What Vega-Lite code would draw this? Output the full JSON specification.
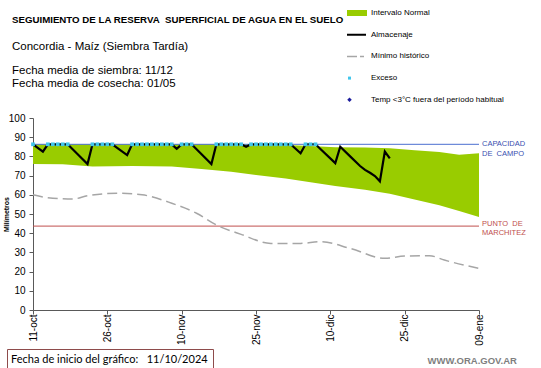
{
  "$schema": "https://vega.github.io/schema/vega-lite/v6.json",
  "width": 446,
  "height": 192,
  "autosize": {"type": "none"},
  "padding": {"left": 33, "top": 118, "right": 62, "bottom": 58},
  "background": "white",
  "config": {"view": {"stroke": null}, "font": "Liberation Sans"},
  "resolve": {"legend": {"color": "independent"}},
  "title": {
    "text": "SEGUIMIENTO DE LA RESERVA\u00a0 SUPERFICIAL DE AGUA EN EL SUELO",
    "subtitle": "Concordia - Maíz (Siembra Tardía)",
    "anchor": "start",
    "frame": "group",
    "orient": "top",
    "dx": -21,
    "dy": 43,
    "offset": 0,
    "font": "Liberation Sans",
    "fontSize": 9.7,
    "fontWeight": "bold",
    "color": "#000000",
    "subtitleFont": "Liberation Sans",
    "subtitleFontSize": 11.5,
    "subtitleColor": "#000000",
    "subtitlePadding": 15.5
  },
  "datasets": {
    "banda": [
      {"fecha": "2024-10-11", "bajo": 76.0, "alto": 86.3},
      {"fecha": "2024-10-17", "bajo": 75.9, "alto": 86.3},
      {"fecha": "2024-10-23", "bajo": 74.8, "alto": 86.3},
      {"fecha": "2024-10-31", "bajo": 75.0, "alto": 86.3},
      {"fecha": "2024-11-08", "bajo": 74.8, "alto": 86.3},
      {"fecha": "2024-11-14", "bajo": 73.5, "alto": 86.3},
      {"fecha": "2024-11-20", "bajo": 72.0, "alto": 86.3},
      {"fecha": "2024-11-25", "bajo": 70.3, "alto": 86.3},
      {"fecha": "2024-12-01", "bajo": 68.5, "alto": 86.0},
      {"fecha": "2024-12-06", "bajo": 66.5, "alto": 85.4},
      {"fecha": "2024-12-11", "bajo": 64.6, "alto": 84.8},
      {"fecha": "2024-12-17", "bajo": 62.6, "alto": 84.7},
      {"fecha": "2024-12-22", "bajo": 60.5, "alto": 84.2},
      {"fecha": "2024-12-27", "bajo": 57.5, "alto": 83.2},
      {"fecha": "2025-01-01", "bajo": 54.5, "alto": 82.3},
      {"fecha": "2025-01-05", "bajo": 51.5, "alto": 80.8},
      {"fecha": "2025-01-09", "bajo": 48.5, "alto": 81.6}
    ],
    "minimo": [
      {"fecha": "2024-10-11", "valor": 60.0},
      {"fecha": "2024-10-14", "valor": 58.5},
      {"fecha": "2024-10-19", "valor": 57.8},
      {"fecha": "2024-10-22", "valor": 59.5},
      {"fecha": "2024-10-28", "valor": 60.8},
      {"fecha": "2024-11-02", "valor": 60.0},
      {"fecha": "2024-11-08", "valor": 55.6},
      {"fecha": "2024-11-13", "valor": 50.4},
      {"fecha": "2024-11-17", "valor": 44.3},
      {"fecha": "2024-11-22", "valor": 39.4},
      {"fecha": "2024-11-28", "valor": 34.7},
      {"fecha": "2024-12-04", "valor": 34.7},
      {"fecha": "2024-12-08", "valor": 35.6},
      {"fecha": "2024-12-14", "valor": 32.1},
      {"fecha": "2024-12-21", "valor": 26.9},
      {"fecha": "2024-12-25", "valor": 28.1},
      {"fecha": "2024-12-30", "valor": 28.3},
      {"fecha": "2025-01-02", "valor": 26.0},
      {"fecha": "2025-01-09", "valor": 21.7}
    ],
    "almacenaje": [
      {"fecha": "2024-10-11", "valor": 86.3},
      {"fecha": "2024-10-13", "valor": 82.5},
      {"fecha": "2024-10-14", "valor": 86.3},
      {"fecha": "2024-10-18", "valor": 86.3},
      {"fecha": "2024-10-22", "valor": 76.0},
      {"fecha": "2024-10-23", "valor": 86.3},
      {"fecha": "2024-10-27", "valor": 86.3},
      {"fecha": "2024-10-30", "valor": 80.7},
      {"fecha": "2024-10-31", "valor": 86.3},
      {"fecha": "2024-11-08", "valor": 86.3},
      {"fecha": "2024-11-09", "valor": 84.0},
      {"fecha": "2024-11-10", "valor": 86.3},
      {"fecha": "2024-11-12", "valor": 86.3},
      {"fecha": "2024-11-16", "valor": 76.0},
      {"fecha": "2024-11-17", "valor": 86.3},
      {"fecha": "2024-11-22", "valor": 86.3},
      {"fecha": "2024-11-23", "valor": 85.0},
      {"fecha": "2024-11-24", "valor": 86.3},
      {"fecha": "2024-12-02", "valor": 86.3},
      {"fecha": "2024-12-04", "valor": 81.6},
      {"fecha": "2024-12-05", "valor": 86.3},
      {"fecha": "2024-12-07", "valor": 86.3},
      {"fecha": "2024-12-11", "valor": 76.5},
      {"fecha": "2024-12-12", "valor": 85.0},
      {"fecha": "2024-12-14", "valor": 80.0},
      {"fecha": "2024-12-16", "valor": 75.0},
      {"fecha": "2024-12-17", "valor": 73.0},
      {"fecha": "2024-12-18", "valor": 71.5},
      {"fecha": "2024-12-19", "valor": 69.8},
      {"fecha": "2024-12-20", "valor": 67.0},
      {"fecha": "2024-12-21", "valor": 82.5},
      {"fecha": "2024-12-22", "valor": 79.0}
    ],
    "exceso": [
      {"fecha": "2024-10-11", "valor": 86.3},
      {"fecha": "2024-10-14", "valor": 86.3},
      {"fecha": "2024-10-15", "valor": 86.3},
      {"fecha": "2024-10-16", "valor": 86.3},
      {"fecha": "2024-10-17", "valor": 86.3},
      {"fecha": "2024-10-18", "valor": 86.3},
      {"fecha": "2024-10-23", "valor": 86.3},
      {"fecha": "2024-10-24", "valor": 86.3},
      {"fecha": "2024-10-25", "valor": 86.3},
      {"fecha": "2024-10-26", "valor": 86.3},
      {"fecha": "2024-10-27", "valor": 86.3},
      {"fecha": "2024-10-31", "valor": 86.3},
      {"fecha": "2024-11-01", "valor": 86.3},
      {"fecha": "2024-11-02", "valor": 86.3},
      {"fecha": "2024-11-03", "valor": 86.3},
      {"fecha": "2024-11-04", "valor": 86.3},
      {"fecha": "2024-11-05", "valor": 86.3},
      {"fecha": "2024-11-06", "valor": 86.3},
      {"fecha": "2024-11-07", "valor": 86.3},
      {"fecha": "2024-11-08", "valor": 86.3},
      {"fecha": "2024-11-10", "valor": 86.3},
      {"fecha": "2024-11-11", "valor": 86.3},
      {"fecha": "2024-11-12", "valor": 86.3},
      {"fecha": "2024-11-17", "valor": 86.3},
      {"fecha": "2024-11-18", "valor": 86.3},
      {"fecha": "2024-11-19", "valor": 86.3},
      {"fecha": "2024-11-20", "valor": 86.3},
      {"fecha": "2024-11-21", "valor": 86.3},
      {"fecha": "2024-11-22", "valor": 86.3},
      {"fecha": "2024-11-24", "valor": 86.3},
      {"fecha": "2024-11-25", "valor": 86.3},
      {"fecha": "2024-11-26", "valor": 86.3},
      {"fecha": "2024-11-27", "valor": 86.3},
      {"fecha": "2024-11-28", "valor": 86.3},
      {"fecha": "2024-11-29", "valor": 86.3},
      {"fecha": "2024-11-30", "valor": 86.3},
      {"fecha": "2024-12-01", "valor": 86.3},
      {"fecha": "2024-12-02", "valor": 86.3},
      {"fecha": "2024-12-05", "valor": 86.3},
      {"fecha": "2024-12-06", "valor": 86.3},
      {"fecha": "2024-12-07", "valor": 86.3}
    ],
    "referencias": [
      {"nombre": "Capacidad de campo", "fecha": "2025-01-09", "valor": 86.3, "etiqueta": ["CAPACIDAD", "DE\u00a0\u00a0CAMPO"]},
      {"nombre": "Punto de marchitez", "fecha": "2025-01-09", "valor": 43.7, "etiqueta": ["PUNTO\u00a0\u00a0DE", "MARCHITEZ"]}
    ]
  },
  "layer": [
    {
      "data": {"name": "banda"},
      "mark": {"type": "area", "opacity": 1},
      "encoding": {
        "x": {
          "field": "fecha", "type": "temporal", "title": "WWW.ORA.GOV.AR",
          "scale": {"type": "utc", "nice": false, "domain": [
            {"year": 2024, "month": 10, "date": 11, "utc": true},
            {"year": 2025, "month": 1, "date": 9, "utc": true}
          ]},
          "axis": {
            "values": [
              {"year": 2024, "month": 10, "date": 11, "utc": true},
              {"year": 2024, "month": 10, "date": 26, "utc": true},
              {"year": 2024, "month": 11, "date": 10, "utc": true},
              {"year": 2024, "month": 11, "date": 25, "utc": true},
              {"year": 2024, "month": 12, "date": 10, "utc": true},
              {"year": 2024, "month": 12, "date": 25, "utc": true},
              {"year": 2025, "month": 1, "date": 9, "utc": true}
            ],
            "tickCount": 20,
            "labelExpr": "utcFormat(datum.value, '%d') + '-' + ['ene','feb','mar','abr','may','jun','jul','ago','sep','oct','nov','dic'][utcmonth(datum.value)]",
            "labelAngle": -90,
            "labelAlign": "right",
            "labelBaseline": "middle",
            "labelFont": "Liberation Sans",
            "labelFontSize": 10,
            "labelColor": "#000000",
            "labelPadding": 0,
            "labelOverlap": false,
            "labelFlush": false,
            "labelBound": false,
            "tickSize": 4,
            "tickColor": "#595959",
            "domainColor": "#595959",
            "grid": false,
            "titleX": 394,
            "titleY": 50,
            "titleAlign": "left",
            "titleBaseline": "middle",
            "titleAnchor": null,
            "titleFont": "Liberation Sans",
            "titleFontSize": 9.5,
            "titleFontWeight": "bold",
            "titleColor": "#7f7f7f"
          }
        },
        "y": {
          "field": "alto", "type": "quantitative", "title": "Milímetros",
          "scale": {"domain": [0, 100], "nice": false},
          "axis": {
            "values": [0, 10, 20, 30, 40, 50, 60, 70, 80, 90, 100],
            "tickCount": 20,
            "labelOverlap": false,
            "labelFlush": false,
            "labelBound": false,
            "labelFont": "Liberation Sans",
            "labelFontSize": 10,
            "labelColor": "#000000",
            "labelPadding": 4,
            "tickSize": 4,
            "tickColor": "#595959",
            "domainColor": "#595959",
            "grid": false,
            "titleFont": "Liberation Sans",
            "titleFontSize": 7,
            "titleFontWeight": "bold",
            "titleColor": "#000000",
            "titleX": -27,
            "titleY": 96,
            "titleAngle": -90,
            "titleAlign": "center",
            "titleBaseline": "middle"
          }
        },
        "y2": {"field": "bajo"},
        "color": {
          "datum": "Intervalo Normal", "type": "nominal",
          "scale": {
            "domain": ["Intervalo Normal", "Almacenaje", "Mínimo histórico", "Exceso", "Temp <3°C fuera del período habitual"],
            "range": ["#99cc00", "#000000", "#a6a6a6", "#41c6ec", "#1c1c9c"]
          },
          "legend": {
            "orient": "none",
            "legendX": 320,
            "legendY": -109,
            "title": null,
            "direction": "vertical",
            "padding": 0,
            "labelFont": "Liberation Sans",
            "labelFontSize": 8,
            "labelColor": "#000000",
            "labelOffset": 10,
            "labelLimit": 200,
            "rowPadding": 13.7,
            "symbolSize": 100,
            "encoding": {
              "symbols": {
                "shape": {"value": {"expr": "datum.value == 'Intervalo Normal' ? 'M-2,-0.6H2V0.6H-2Z' : datum.value == 'Exceso' ? 'M-1.8,-0.3H-1.2V0.3H-1.8Z' : (datum.value == 'Almacenaje' || datum.value == 'Mínimo histórico') ? 'M-2,0H1.8' : 'M-1.5,-0.45L-1.05,0L-1.5,0.45L-1.95,0Z'"}},
                "size": {"value": 100},
                "fill": {"value": {"expr": "datum.value == 'Intervalo Normal' ? '#99cc00' : datum.value == 'Exceso' ? '#41c6ec' : (datum.value == 'Almacenaje' || datum.value == 'Mínimo histórico') ? 'transparent' : '#1c1c9c'"}},
                "stroke": {"value": {"expr": "datum.value == 'Almacenaje' ? '#000000' : datum.value == 'Mínimo histórico' ? '#a6a6a6' : 'transparent'"}},
                "strokeWidth": {"value": {"expr": "datum.value == 'Almacenaje' ? 2 : datum.value == 'Mínimo histórico' ? 1.5 : 0"}},
                "strokeDash": {"value": {"expr": "datum.value == 'Mínimo histórico' ? [10, 3, 4, 3] : [1, 0]"}},
                "opacity": {"value": 1}
              }
            }
          }
        }
      }
    },
    {
      "data": {"name": "referencias"},
      "transform": [{"filter": "datum.nombre == 'Capacidad de campo'"}],
      "mark": {"type": "rule", "color": "#4a6fd0", "strokeWidth": 1},
      "encoding": {
        "y": {"field": "valor", "type": "quantitative", "title": "Milímetros"}
      }
    },
    {
      "data": {"name": "referencias"},
      "transform": [{"filter": "datum.nombre == 'Punto de marchitez'"}],
      "mark": {"type": "rule", "color": "#c0504d", "strokeWidth": 1},
      "encoding": {
        "y": {"field": "valor", "type": "quantitative", "title": "Milímetros"}
      }
    },
    {
      "data": {"name": "minimo"},
      "mark": {"type": "line", "strokeWidth": 1.5, "interpolate": "monotone"},
      "encoding": {
        "x": {"field": "fecha", "type": "temporal", "title": "WWW.ORA.GOV.AR"},
        "y": {"field": "valor", "type": "quantitative", "title": "Milímetros"},
        "color": {"datum": "Mínimo histórico", "type": "nominal", "legend": null},
        "strokeDash": {
          "datum": "Mínimo histórico",
          "type": "nominal",
          "scale": {"range": [[10, 5]]},
          "legend": {
            "orient": "none",
            "legendX": -21,
            "legendY": -53,
            "padding": 0,
            "title": ["Fecha media de siembra: 11/12", "Fecha media de cosecha: 01/05"],
            "titleFont": "Liberation Sans",
            "titleFontSize": 11.5,
            "titleFontWeight": "normal",
            "titleColor": "#000000",
            "titleLineHeight": 12.5,
            "titleLimit": 400,
            "titlePadding": 0,
            "labelExpr": "''",
            "symbolOpacity": 0,
            "symbolSize": 1,
            "symbolStrokeWidth": 0
          }
        }
      }
    },
    {
      "data": {"name": "almacenaje"},
      "mark": {"type": "line", "strokeWidth": 2.2},
      "encoding": {
        "x": {"field": "fecha", "type": "temporal", "title": "WWW.ORA.GOV.AR"},
        "y": {"field": "valor", "type": "quantitative", "title": "Milímetros"},
        "color": {"datum": "Almacenaje", "type": "nominal", "legend": null}
      }
    },
    {
      "data": {"name": "exceso"},
      "mark": {"type": "point", "filled": true, "opacity": 1, "size": 14},
      "encoding": {
        "x": {"field": "fecha", "type": "temporal", "title": "WWW.ORA.GOV.AR"},
        "y": {"field": "valor", "type": "quantitative", "title": "Milímetros"},
        "color": {"datum": "Exceso", "type": "nominal", "legend": null},
        "shape": {
          "datum": "Fecha de inicio del gráfico:\u00a0\u00a0\u00a011/10/2024",
          "type": "nominal",
          "scale": {"range": ["square"]},
          "legend": {
            "orient": "none",
            "legendX": -26,
            "legendY": 231,
            "title": null,
            "strokeColor": "#8e4b4b",
            "padding": 5,
            "labelFont": "Lato",
            "labelFontSize": 11,
            "labelColor": "#000000",
            "labelLimit": 300,
            "labelOffset": -12,
            "symbolOpacity": 0,
            "symbolStrokeWidth": 0
          }
        }
      }
    },
    {
      "data": {"name": "referencias"},
      "transform": [{"filter": "datum.nombre == 'Capacidad de campo'"}],
      "mark": {"type": "text", "align": "left", "baseline": "middle", "dx": 3, "dy": 0, "fontSize": 7.5, "lineHeight": 9.7, "color": "#3a4fb0"},
      "encoding": {
        "x": {"field": "fecha", "type": "temporal", "title": "WWW.ORA.GOV.AR"},
        "y": {"field": "valor", "type": "quantitative", "title": "Milímetros"},
        "text": {"field": "etiqueta"}
      }
    },
    {
      "data": {"name": "referencias"},
      "transform": [{"filter": "datum.nombre == 'Punto de marchitez'"}],
      "mark": {"type": "text", "align": "left", "baseline": "middle", "dx": 3, "dy": -2, "fontSize": 7.5, "lineHeight": 8.5, "color": "#c0504d"},
      "encoding": {
        "x": {"field": "fecha", "type": "temporal", "title": "WWW.ORA.GOV.AR"},
        "y": {"field": "valor", "type": "quantitative", "title": "Milímetros"},
        "text": {"field": "etiqueta"}
      }
    }
  ]
}
